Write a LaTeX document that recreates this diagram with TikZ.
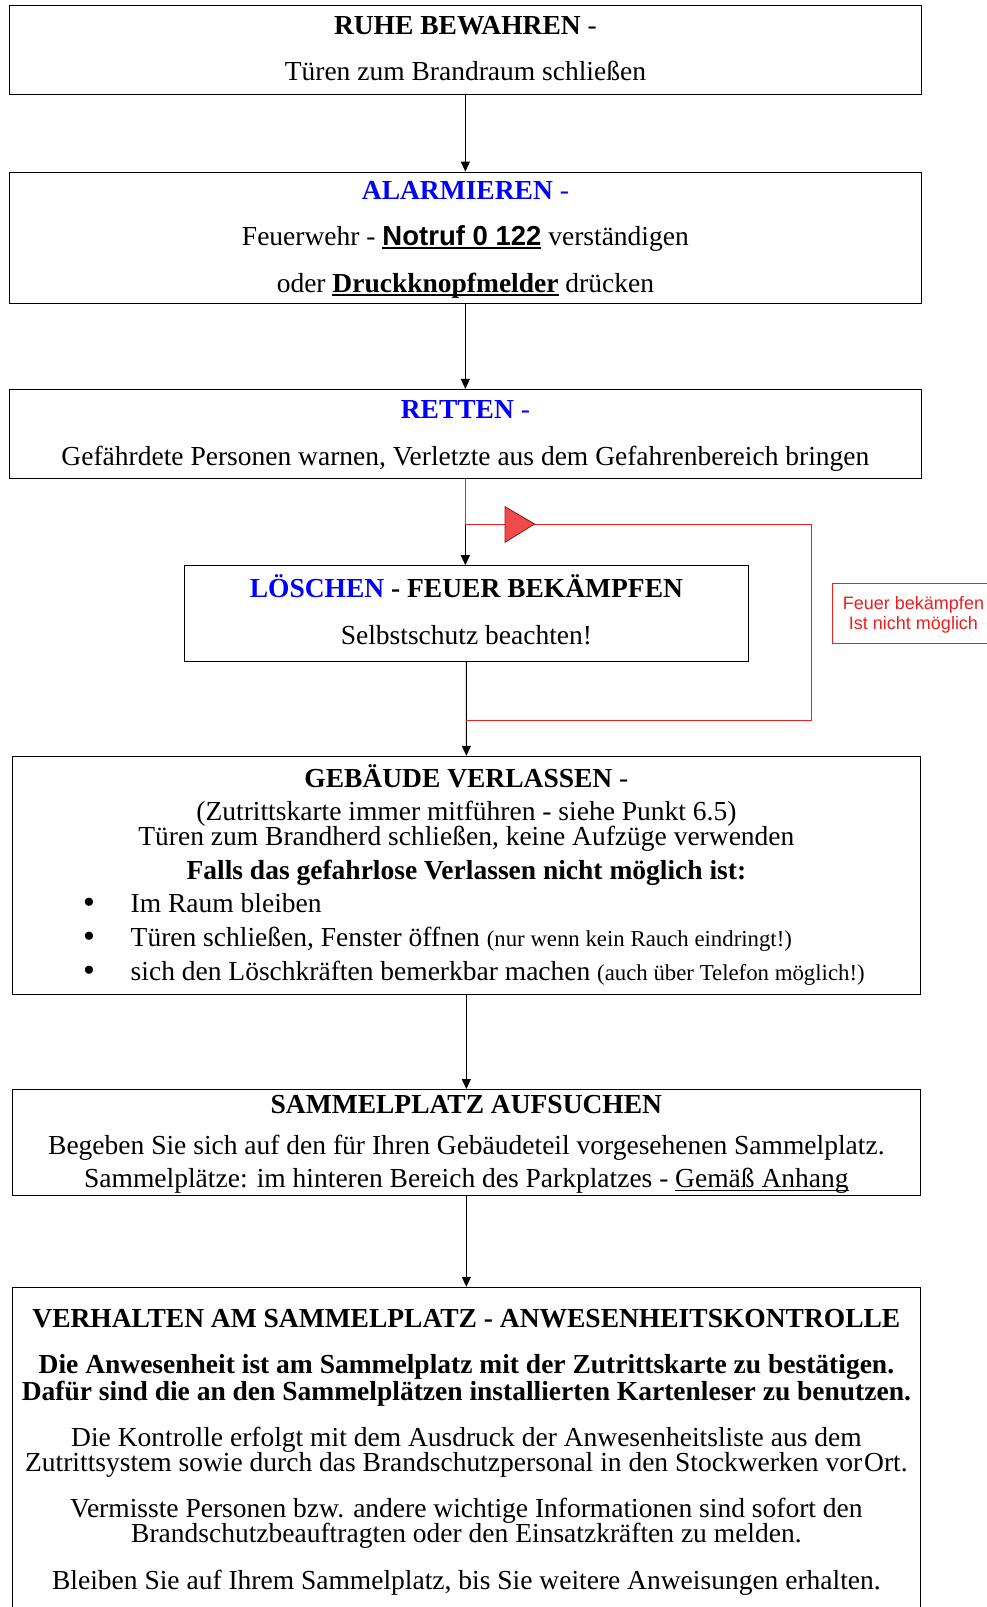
\documentclass[tikz,border=0pt]{standalone}
\usepackage{fontspec}
\setmainfont{Liberation Serif}
\newfontfamily\arialfont{Liberation Sans}
\usetikzlibrary{arrows.meta}
\definecolor{wblue}{RGB}{0,0,255}
\definecolor{wred}{RGB}{240,30,30}
\definecolor{trifill}{RGB}{240,75,75}
\definecolor{tridraw}{RGB}{150,20,20}
\newcommand\myul[2][1.5]{{\setbox0\hbox{#2}\rlap{\rule[-3.5pt]{\wd0}{#1pt}}\box0}}
\newcommand\bigf{\fontsize{27.5}{33}\selectfont}
\newcommand\smallf{\fontsize{22.8}{27}\selectfont}
\begin{document}
\begin{tikzpicture}[x=1pt,y=-1pt,
  box/.style={draw=black, line width=1.2pt, inner sep=0pt},
  txt/.style={inner sep=0pt, anchor=base, font=\bigf},
  ltxt/.style={inner sep=0pt, anchor=base west, font=\bigf},
  bul/.style={inner sep=0pt, anchor=base, font=\fontsize{34}{34}\selectfont},
  arr/.style={draw=black, line width=1pt, -{Triangle[length=10pt,width=9pt]}},
  redline/.style={draw=wred, line width=1pt},
  lbl/.style={inner sep=0pt, anchor=base, font=\arialfont\fontsize{18}{21}\selectfont, text=wred}]
\useasboundingbox (0,0) rectangle (986,1607);

% boxes
\node[box, minimum width=912.3pt, minimum height=89.2pt] (b1) at (465.35,49.7) {};
\node[box, minimum width=912.3pt, minimum height=131.2pt] (b2) at (465.35,237.8) {};
\node[box, minimum width=912.3pt, minimum height=89.2pt] (b3) at (465.35,434.1) {};
\node[box, minimum width=563.8pt, minimum height=95.3pt] (b4) at (466.4,613.45) {};
\node[box, minimum width=908.1pt, minimum height=238pt] (b5) at (466.35,875.4) {};
\node[box, minimum width=908.1pt, minimum height=105.6pt] (b6) at (466.35,1142.4) {};
\node[box, minimum width=908.1pt, minimum height=337.6pt] (b7) at (466.35,1456.2) {};
\node[draw=wred, line width=1pt, inner sep=0pt, minimum width=162.4pt, minimum height=60pt] (lb) at (913.5,613.5) {};

% box 1
\node[txt] (t1a) at (465.4,34.1) {\textbf{RUHE BEWAHREN} -};
\node[txt] (t1b) at (465.4,80.2) {Türen zum Brandraum schließen};
% box 2
\node[txt, text=wblue] (t2a) at (465.4,199.1) {\textbf{ALARMIEREN} -};
\node[txt] (t2b) at (465.4,245.3) {Feuerwehr - \myul[2]{\arialfont\bfseries Notruf 0 122} verständigen};
\node[txt] (t2c) at (465.4,292.5) {oder \myul[2]{\bfseries Druckknopfmelder} drücken};
% box 3
\node[txt, text=wblue] (t3a) at (465.4,418.5) {\textbf{RETTEN} -};
\node[txt] (t3b) at (465.4,465.5) {Gefährdete Personen warnen, Verletzte aus dem Gefahrenbereich bringen};
% box 4
\node[txt] (t4a) at (466.4,597.9) {\textcolor{wblue}{\textbf{LÖSCHEN}} \textbf{- FEUER BEKÄMPFEN}};
\node[txt] (t4b) at (466.4,644) {Selbstschutz beachten!};
% red label
\node[lbl] (l1) at (913.5,609.2) {Feuer bekämpfen};
\node[lbl] (l2) at (913.5,629.7) {Ist nicht möglich};
% box 5
\node[txt] (t5a) at (466.4,787.5) {\textbf{GEBÄUDE VERLASSEN} -};
\node[txt] (t5b) at (466.4,820.3) {(Zutrittskarte immer mitführen - siehe Punkt 6.5)};
\node[txt] (t5c) at (466.4,845.9) {Türen zum Brandherd schließen, keine Aufzüge verwenden};
\node[txt] (t5d) at (466.4,879.7) {\textbf{Falls das gefahrlose Verlassen nicht möglich ist:}};
\node[bul] (u1) at (89,913.5) {•};
\node[bul] (u2) at (89,947.4) {•};
\node[bul] (u3) at (89,981.2) {•};
\node[ltxt] (t5e) at (130.5,912.5) {Im Raum bleiben};
\node[ltxt] (t5f) at (130.5,946.4) {Türen schließen, Fenster öffnen {\smallf (nur wenn kein Rauch eindringt!)}};
\node[ltxt] (t5g) at (130.5,980.2) {sich den Löschkräften bemerkbar machen {\smallf (auch über Telefon möglich!)}};
% box 6
\node[txt] (t6a) at (466.4,1113.5) {\textbf{SAMMELPLATZ AUFSUCHEN}};
\node[txt] (t6b) at (466.4,1154.5) {Begeben Sie sich auf den für Ihren Gebäudeteil vorgesehenen Sammelplatz.};
\node[txt] (t6c) at (466.4,1187.3) {Sammelplätze: im hinteren Bereich des Parkplatzes - \myul[1.2]{Gemäß Anhang}};
% box 7
\node[txt] (t7a) at (466.4,1327.7) {\textbf{VERHALTEN AM SAMMELPLATZ - ANWESENHEITSKONTROLLE}};
\node[txt] (t7b) at (466.4,1373.8) {\textbf{Die Anwesenheit ist am Sammelplatz mit der Zutrittskarte zu bestätigen.}};
\node[txt] (t7c) at (466.4,1400.5) {\textbf{Dafür sind die an den Sammelplätzen installierten Kartenleser zu benutzen.}};
\node[txt] (t7d) at (466.4,1446.5) {Die Kontrolle erfolgt mit dem Ausdruck der Anwesenheitsliste aus dem};
\node[txt] (t7e) at (466.4,1471.2) {Zutrittsystem sowie durch das Brandschutzpersonal in den Stockwerken vor\hspace{2pt}Ort.};
\node[txt] (t7f) at (466.4,1517.3) {Vermisste Personen bzw. andere wichtige Informationen sind sofort den};
\node[txt] (t7g) at (466.4,1542.9) {Brandschutzbeauftragten oder den Einsatzkräften zu melden.};
\node[txt] (t7h) at (466.4,1589) {Bleiben Sie auf Ihrem Sammelplatz, bis Sie weitere Anweisungen erhalten.};

% connectors
\coordinate (r1) at (465.35,524);
\coordinate (r2) at (811.5,524);
\coordinate (r3) at (811.5,720.6);
\coordinate (r4) at (466.4,720.6);
\draw[arr] (b1.south) -- (b2.north);
\draw[arr] (b2.south) -- (b3.north);
\draw[arr] (b3.south) -- (b3.south |- b4.north);
\draw[arr] (b4.south) -- (b5.north);
\draw[arr] (b5.south) -- (b6.north);
\draw[arr] (b6.south) -- (b7.north);
\draw[redline] (b3.south) -- (r1) -- (r2) -- (r3) -- (r4);
\filldraw[fill=trifill, draw=tridraw, line width=0.8pt] (505,506.7) -- (534.6,524) -- (505,542.3) -- cycle;
\end{tikzpicture}
\end{document}
